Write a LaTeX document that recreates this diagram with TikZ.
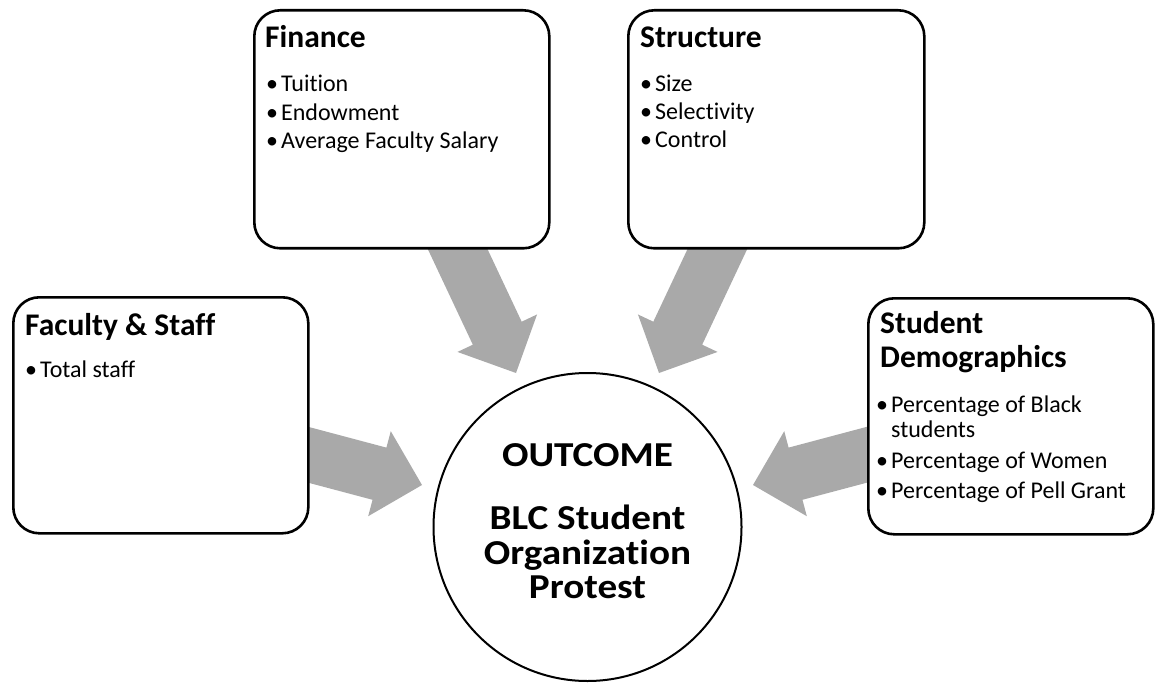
\documentclass[tikz,border=0pt]{standalone}
\usepackage{fontspec}
\setmainfont{Carlito}[Ligatures=NoCommon]
\usetikzlibrary{calc}
\definecolor{arrowgray}{HTML}{A9A9A9}

% Block arrow: #1 name prefix, #2 start (hidden behind a box), #3 tip
\newcommand\blockarrow[3]{%
  \coordinate (#1h) at ($(#3)!44pt!(#2)$);
  \fill[arrowgray] ($(#2)!27pt!90:(#3)$) -- ($(#1h)!27pt!90:(#3)$)
    -- ($(#1h)!44pt!90:(#3)$) -- (#3) -- ($(#1h)!44pt!-90:(#3)$)
    -- ($(#1h)!27pt!-90:(#3)$) -- ($(#2)!27pt!-90:(#3)$) -- cycle;
}
% bulleted entry with a fixed gap after the bullet
\newcommand\bul{\makebox[15pt][l]{•}}
\newcommand\wide[1]{\scalebox{1.12}[1]{#1}}

\begin{document}
\begin{tikzpicture}[x=1pt, y=-1pt,
  box/.style={draw, line width=2.6pt, rounded corners=26pt, fill=white,
    anchor=north west, inner sep=0pt},
  titletext/.style={font=\fontsize{31.5}{34}\selectfont\bfseries, inner sep=0pt, anchor=base west},
  itemtext/.style={font=\fontsize{24}{26}\selectfont, inner sep=0pt, anchor=base west},
  centertext/.style={font=\fontsize{35}{38}\selectfont\bfseries, inner sep=0pt, anchor=base}]
\useasboundingbox (0,0) rectangle (1155,684);

% arrow end points
\coordinate (finS) at (443,218);  \coordinate (finT) at (516,373);
\coordinate (strS) at (732,218);  \coordinate (strT) at (659,373);
\coordinate (facS) at (279,447);  \coordinate (facT) at (422,485);
\coordinate (stuS) at (896,447);  \coordinate (stuT) at (753,485);

\blockarrow{fin}{finS}{finT}
\blockarrow{str}{strS}{strT}
\blockarrow{fac}{facS}{facT}
\blockarrow{stu}{stuS}{stuT}

% boxes
\node[box, minimum width=295pt, minimum height=238pt] (fin) at (253,9) {};
\node[box, minimum width=296pt, minimum height=238pt] (str) at (627,9) {};
\node[box, minimum width=295pt, minimum height=236pt] (fac) at (12,296) {};
\node[box, minimum width=285pt, minimum height=236pt] (stu) at (867,297) {};

% Finance
\node[titletext] (fin-t) at (265,48) {Finance};
\node[itemtext] (fin-1) at (266,92) {\bul Tuition};
\node[itemtext] (fin-2) at (266,121) {\bul Endowment};
\node[itemtext] (fin-3) at (266,149) {\bul Average Faculty Salary};

% Structure
\node[titletext] (str-t) at (640,48) {Structure};
\node[itemtext] (str-1) at (640,92) {\bul Size};
\node[itemtext] (str-2) at (640,120) {\bul Selectivity};
\node[itemtext] (str-3) at (640,148) {\bul Control};

% Faculty & Staff
\node[titletext] (fac-t) at (25,335) {Faculty \& Staff};
\node[itemtext] (fac-1) at (25,377) {\bul Total staff};

% Student Demographics
\node[titletext] (stu-t1) at (880,333) {Student};
\node[titletext] (stu-t2) at (880,367) {Demographics};
\node[itemtext] (stu-1) at (876,412) {\bul Percentage of Black};
\node[itemtext] (stu-1b) at (876,437) {\hspace{15pt}students};
\node[itemtext] (stu-2) at (876,468) {\bul Percentage of Women};
\node[itemtext] (stu-3) at (876,498) {\bul Percentage of Pell Grant};

% outcome circle
\node[draw, circle, line width=2pt, fill=white, minimum size=308pt, inner sep=0pt] (out) at (587.5,527) {};
\node[centertext] (out-1) at (587.5,466) {\wide{OUTCOME}};
\node[centertext] (out-2) at (587.5,529) {\wide{BLC Student}};
\node[centertext] (out-3) at (587.5,564) {\wide{Organization}};
\node[centertext] (out-4) at (587.5,598) {\wide{Protest}};
\end{tikzpicture}
\end{document}
